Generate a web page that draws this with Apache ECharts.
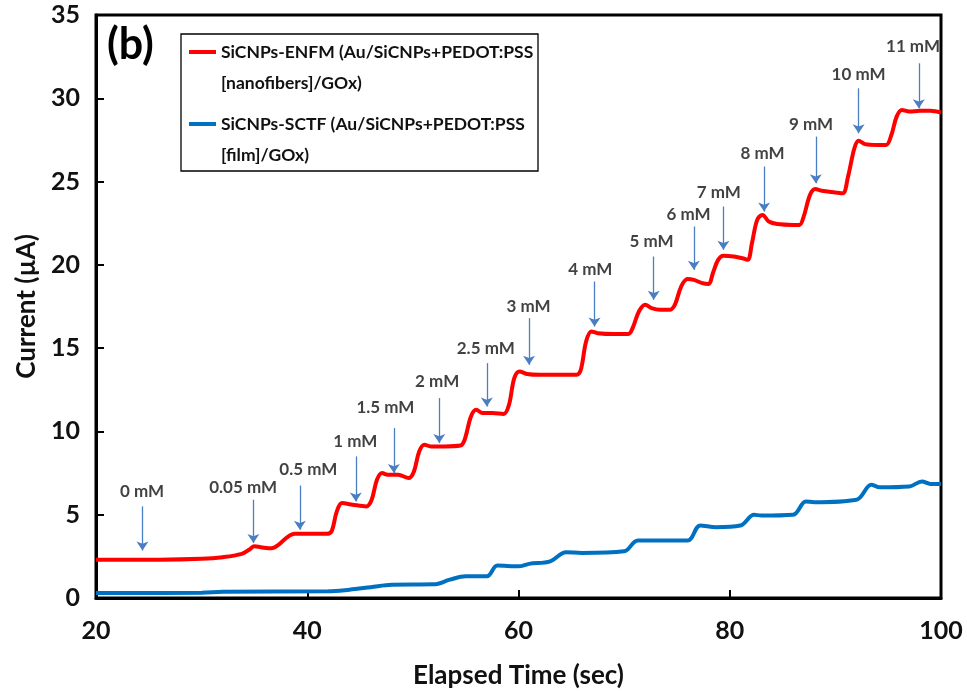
<!DOCTYPE html>
<html>
<head>
<meta charset="utf-8">
<script src="https://cdn.jsdelivr.net/npm/echarts@6/dist/echarts.min.js"></script>
<style>
html,body{margin:0;padding:0;background:#fff;}
#chart{width:967px;height:694px;}
</style>
</head>
<body>
<div id="chart"></div>
<script>
// ---- Data ----
const redName = 'SiCNPs-ENFM (Au/SiCNPs+PEDOT:PSS\n[nanofibers]/GOx)';
const blueName = 'SiCNPs-SCTF (Au/SiCNPs+PEDOT:PSS\n[film]/GOx)';

const redTime = [20,26,30,32,33.8,34.5,35,35.6,36.6,37.3,38,38.8,40,41.8,42.3,42.8,43.3,44.3,45.6,46.1,46.6,47.1,47.6,48.6,49.6,50.1,50.6,51.1,51.7,53,54.5,54.9,55.5,56,56.6,57.5,58.6,59.1,59.6,60.1,60.8,62,64,65.5,65.9,66.4,66.9,67.5,69,70.4,70.8,71.4,72,72.6,73.4,74.3,74.8,75.4,76,76.6,77.4,78,78.4,78.9,79.4,80.4,81.2,81.7,82.1,82.6,83.1,83.7,84.5,86,86.6,87,87.6,88.1,88.7,90,90.7,91.2,91.8,92.2,92.8,94,94.8,95.3,95.8,96.3,97,98,99,100];
const redCurrent = [2.3,2.3,2.35,2.45,2.65,2.9,3.1,3.05,2.98,3.2,3.6,3.85,3.85,3.85,4.0,5.2,5.7,5.6,5.5,5.9,7.1,7.5,7.4,7.4,7.2,7.6,8.8,9.2,9.1,9.1,9.15,9.5,10.9,11.3,11.1,11.1,11.05,11.6,13.2,13.6,13.45,13.4,13.4,13.4,13.7,15.4,16.0,15.9,15.85,15.85,16.2,17.2,17.6,17.4,17.3,17.3,17.6,18.7,19.15,19.1,18.9,18.85,19.5,20.3,20.55,20.5,20.4,20.3,21.3,22.7,23.0,22.6,22.45,22.4,22.4,22.9,24.2,24.55,24.45,24.35,24.3,25.3,27.0,27.45,27.25,27.2,27.2,27.8,28.9,29.3,29.2,29.25,29.25,29.15];

const blueTime = [20,30,32,42,44,46,48,52,53.5,55,57,58,60,61,63,64.5,66,70,71.3,76,77.2,78.7,81,82.3,83,86,87.2,88,92,93.4,94.2,97,98.2,99,100];
const blueCurrent = [0.3,0.32,0.38,0.4,0.5,0.65,0.8,0.82,1.1,1.3,1.3,1.95,1.9,2.05,2.2,2.75,2.7,2.8,3.45,3.45,4.35,4.25,4.35,5.0,4.95,5.0,5.8,5.75,5.9,6.8,6.65,6.7,7.0,6.85,6.85];

// annotation arrows (concentration additions)
const annLabels = ['0 mM','0.05 mM','0.5 mM','1 mM','1.5 mM','2 mM','2.5 mM','3 mM','4 mM','5 mM','6 mM','7 mM','8 mM','9 mM','10 mM','11 mM'];
const annArrowX = [24.4,34.9,39.3,44.6,48.2,52.5,57.0,61.0,67.2,72.8,76.6,79.4,83.25,88.15,92.2,97.9];
const annArrowTop = [5.5,5.9,6.75,8.5,10.2,12.0,14.1,16.8,19.0,20.5,22.3,23.5,25.9,27.7,30.6,32.1];
const annArrowTip = [2.85,3.3,4.1,5.8,7.5,9.3,11.5,14.0,16.3,17.9,19.7,20.9,23.2,24.9,27.9,29.4];
const annTextX = [24.36,33.93,40.1,44.55,47.4,52.3,56.9,60.95,66.8,72.6,76.1,78.96,83.1,87.7,92.2,97.35];
const annTextY = [6.39,6.62,7.7,9.38,11.42,12.98,15.0,17.5,19.7,21.4,23.05,24.37,26.7,28.45,31.45,33.1];

const xTicks = {min:20, max:100, interval:20};
const yTicks = {min:0, max:35, interval:5};

// ---- Build ----
const FONT = 'Lato';
const redData = redTime.map((t,i)=>[t, redCurrent[i]]);
const blueData = blueTime.map((t,i)=>[t, blueCurrent[i]]);
const arrowLines = annArrowX.map((x,i)=>[{coord:[x, annArrowTop[i]]},{coord:[x, annArrowTip[i]]}]);
const textPts = annTextX.map((x,i)=>({value:[x, annTextY[i]], name: annLabels[i]}));
const legendFont = 17.5;
const legendSecondLines = [redName, blueName].map(n => n.split('\n')[1]);

const chart = echarts.init(document.getElementById('chart'), null, {renderer:'canvas'});
chart.setOption({
  animation: false,
  backgroundColor: '#fff',
  grid: {left: 96, right: 26, top: 15, bottom: 95.5, show: true, borderColor: '#000', borderWidth: 3, backgroundColor: 'transparent'},
  legend: {
    orient: 'vertical', left: 189, top: 41, padding: 0, itemGap: 50,
    itemWidth: 27, itemHeight: 4, icon: 'rect', selectedMode: false,
    data: [redName, blueName],
    formatter: n => n.split('\n')[0],
    textStyle: {fontFamily: FONT, fontWeight: 'bold', fontSize: legendFont, color: '#111', lineHeight: 22}
  },
  graphic: [
    {type:'rect', shape:{x:181, y:34, width:357, height:137}, style:{fill:'none', stroke:'#000', lineWidth:1.3}, z: 10},
    {type:'text', x: 221, y: 83, style:{text: legendSecondLines[0], font:'bold ' + legendFont + 'px ' + FONT, fill:'#111', verticalAlign:'middle'}},
    {type:'text', x: 221, y: 155, style:{text: legendSecondLines[1], font:'bold ' + legendFont + 'px ' + FONT, fill:'#111', verticalAlign:'middle'}},
    {type:'text', left: 107, top: 24, style:{text:'(b)', font:'bold 43px ' + FONT, fill:'#000'}}
  ],
  xAxis: {
    type: 'value', min: xTicks.min, max: xTicks.max, interval: xTicks.interval,
    name: 'Elapsed Time (sec)', nameLocation: 'middle', nameGap: 65,
    nameTextStyle: {fontFamily: FONT, fontWeight: 'bold', fontSize: 26, color: '#111'},
    axisLine: {lineStyle: {color: '#000', width: 3}},
    axisTick: {inside: true, length: 8, lineStyle: {color: '#000', width: 2}},
    axisLabel: {margin: 20, fontFamily: FONT, fontWeight: 'bold', fontSize: 25, color: '#111'},
    splitLine: {show: false}
  },
  yAxis: {
    type: 'value', min: yTicks.min, max: yTicks.max, interval: yTicks.interval,
    name: 'Current (µA)', nameLocation: 'middle', nameGap: 56,
    nameTextStyle: {fontFamily: FONT, fontWeight: 'bold', fontSize: 26, color: '#111'},
    axisLine: {lineStyle: {color: '#000', width: 3}},
    axisTick: {inside: true, length: 8, lineStyle: {color: '#000', width: 2}},
    axisLabel: {margin: 16, fontFamily: FONT, fontWeight: 'bold', fontSize: 25, color: '#111'},
    splitLine: {show: false}
  },
  series: [
    {
      name: redName, type: 'line', data: redData, showSymbol: false, smooth: 0.35,
      lineStyle: {color: '#FF0000', width: 4}, itemStyle: {color: '#FF0000'}, z: 3
    },
    {
      name: blueName, type: 'line', data: blueData, showSymbol: false, smooth: 0.35,
      lineStyle: {color: '#0070C0', width: 4}, itemStyle: {color: '#0070C0'}, z: 3
    },
    {
      name: 'annotations', type: 'scatter', data: textPts, symbolSize: 0, silent: true,
      label: {show: true, position: 'inside', formatter: '{b}', fontFamily: FONT, fontWeight: 'bold', fontSize: 17, color: '#111'},
      markLine: {
        silent: true, symbol: ['none','arrow'], symbolSize: 9,
        lineStyle: {color: '#4A7EC2', width: 1.3, type: 'solid'},
        label: {show: false},
        data: arrowLines
      },
      z: 4
    }
  ]
});
</script>
</body>
</html>
